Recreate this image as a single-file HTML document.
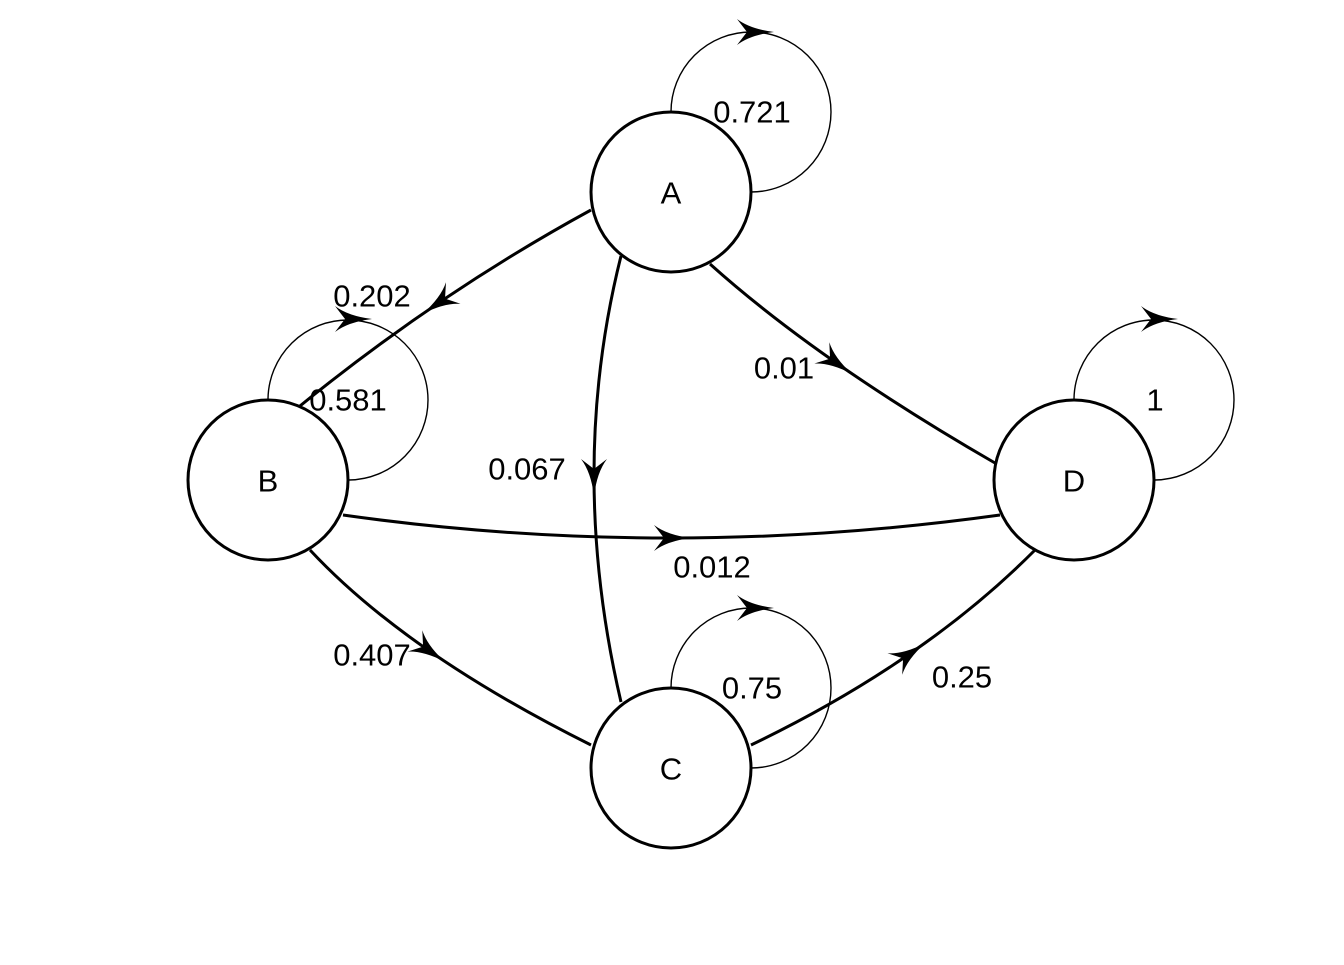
<!DOCTYPE html>
<html><head><meta charset="utf-8"><style>
html,body{margin:0;padding:0;background:#fff;}
svg text{font-family:"Liberation Sans",sans-serif;font-size:31px;fill:#000;}
</style></head><body>
<svg id="s" width="1344" height="960" viewBox="0 0 1344 960" xmlns="http://www.w3.org/2000/svg">
<g fill="none" stroke="#000" stroke-width="1.4">
<path d="M671,112 A80,80 0 1 1 751,192"/>
<path d="M268,399 A80,80 0 1 1 349,480"/>
<path d="M1074,399 A80,80 0 1 1 1155,480"/>
<path d="M671,688 A80,80 0 1 1 751,768"/>
</g>
<g id="edges" fill="none" stroke="#000" stroke-width="3"></g>
<g id="heads" fill="#000"></g>
<g fill="#fff" stroke="#000" stroke-width="3">
<circle cx="671" cy="192" r="80"/>
<circle cx="268" cy="480" r="80"/>
<circle cx="671" cy="768" r="80"/>
<circle cx="1074" cy="480" r="80"/>
</g>
<g text-anchor="middle" dominant-baseline="central">
<text x="671" y="193">A</text>
<text x="268" y="481">B</text>
<text x="671" y="769">C</text>
<text x="1074" y="481">D</text>
<text x="752" y="112">0.721</text>
<text x="372" y="296">0.202</text>
<text x="348" y="400">0.581</text>
<text x="784" y="368">0.01</text>
<text x="1155" y="400">1</text>
<text x="527" y="469">0.067</text>
<text x="712" y="567">0.012</text>
<text x="372" y="655">0.407</text>
<text x="752" y="688">0.75</text>
<text x="962" y="677">0.25</text>
</g>
</svg>
<script>
var E=[[[591,210],[295,410],[440,302]],[[710,264],[995,463],[835,362]],[[621,256],[621,702],[594,475]],
[[343,515],[1000,515],[670,538]],[[310,550],[591,745],[428,650]],[[751,745],[1035,550],[908,655]]];
var ns="http://www.w3.org/2000/svg",eg=document.getElementById('edges'),hg=document.getElementById('heads');
function head(x,y,dx,dy){var l=Math.hypot(dx,dy);dx/=l;dy/=l;var px=-dy,py=dx;
function p(a,b){return (x+dx*a+px*b).toFixed(1)+','+(y+dy*a+py*b).toFixed(1);}
var d='M'+p(21,0)+' Q'+p(-3,3)+' '+p(-16,13)+' L'+p(-6,0)+' L'+p(-16,-13)+' Q'+p(-3,-3)+' '+p(21,0)+'Z';
var e=document.createElementNS(ns,'path');e.setAttribute('d',d);hg.appendChild(e);}
E.forEach(function(e){var a=e[0],b=e[1],m=e[2];var c=[2*m[0]-(a[0]+b[0])/2,2*m[1]-(a[1]+b[1])/2];
var p=document.createElementNS(ns,'path');p.setAttribute('d','M'+a+' Q'+c+' '+b);eg.appendChild(p);
head(m[0],m[1],b[0]-a[0],b[1]-a[1]);});
[[751,32],[349,319],[1155,319],[751,608]].forEach(function(q){head(q[0]+2,q[1],1,0);});
</script>
</body></html>
